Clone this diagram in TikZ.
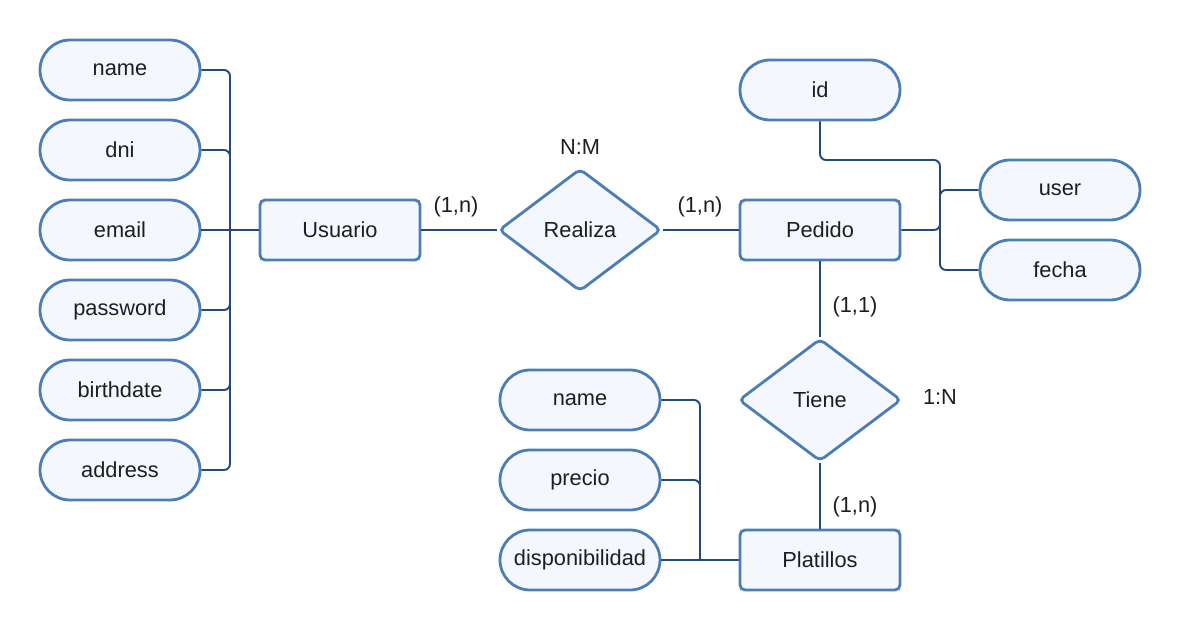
\documentclass[tikz,border=0pt]{standalone}
\usepackage{fontspec}
\setmainfont{Liberation Sans}
\usetikzlibrary{shapes.geometric}

\definecolor{shapeline}{HTML}{4A7EB5}
\definecolor{shapefill}{HTML}{F4F8FE}
\definecolor{linkline}{HTML}{23497A}
\definecolor{textcol}{HTML}{1E1E1E}

\begin{document}
\begin{tikzpicture}[
        every node/.style={text=textcol,font=\fontsize{12.4}{14}\selectfont},
        attr/.style={draw=shapeline,fill=shapefill,rectangle,rounded corners=0.6cm,line width=1.6pt,minimum width=3.2cm,minimum height=1.2cm,inner sep=0pt},
        ent/.style={draw=shapeline,fill=shapefill,rectangle,rounded corners=1mm,line width=1.6pt,minimum width=3.2cm,minimum height=1.2cm,inner sep=0pt},
        rel/.style={draw=shapeline,fill=shapefill,diamond,rounded corners=1mm,line width=1.6pt,minimum width=3.25cm,minimum height=2.45cm,inner sep=0pt},
        link/.style={draw=linkline,line width=1.1pt,rounded corners=1.2mm}
      ]
      \useasboundingbox[fill=white] (0,0) rectangle (23.6,-12.66);
      % Usuario and its attributes.
      \node[attr] (name) at (2.4,-1.4) {name};
      \node[attr] (dni) at (2.4,-3.0) {dni};
      \node[attr] (email) at (2.4,-4.6) {email};
      \node[attr] (password) at (2.4,-6.2) {password};
      \node[attr] (birthdate) at (2.4,-7.8) {birthdate};
      \node[attr] (address) at (2.4,-9.4) {address};
      \node[ent] (usuario) at (6.8,-4.6) {Usuario};
      \coordinate (ubus) at (4.6,-4.6);
      % Realiza.
      \node[rel] (realiza) at (11.6,-4.6) {Realiza};
      \node (nm) at (11.6,-2.94) {N:M};
      \node (card1) at (9.12,-4.14) {(1,n)};
      \node (card2) at (14.0,-4.14) {(1,n)};
      % Pedido and its attributes.
      \node[ent] (pedido) at (16.4,-4.6) {Pedido};
      \node[attr] (id) at (16.4,-1.8) {id};
      \node[attr] (user) at (21.2,-3.8) {user};
      \node[attr] (fecha) at (21.2,-5.4) {fecha};
      \coordinate (idbend) at (18.8,-3.2);
      \coordinate (pbus) at (18.8,-4.6);
      % Tiene.
      \node[rel] (tiene) at (16.4,-8.0) {Tiene};
      \node (onen) at (18.8,-7.94) {1:N};
      \node (card3) at (17.1,-6.14) {(1,1)};
      \node (card4) at (17.1,-10.14) {(1,n)};
      % Platillos and its attributes.
      \node[ent] (platillos) at (16.4,-11.2) {Platillos};
      \node[attr] (pname) at (11.6,-8.0) {name};
      \node[attr] (precio) at (11.6,-9.6) {precio};
      \node[attr] (disp) at (11.6,-11.2) {disponibilidad};
      \coordinate (platbus) at (14.0,-11.2);
      % Connections.
      \draw[link] (name.east) -| (ubus);
      \draw[link] (dni.east) -| (ubus);
      \draw[link] (email.east) -- (ubus);
      \draw[link] (password.east) -| (ubus);
      \draw[link] (birthdate.east) -| (ubus);
      \draw[link] (address.east) -| (ubus);
      \draw[link] (ubus) -- (usuario.west);
      \draw[link] (usuario.east) -- (realiza.west);
      \draw[link] (realiza.east) -- (pedido.west);
      \draw[link] (id.south) |- (idbend) -- (pbus) -- (pedido.east);
      \draw[link] (user.west) -| (pbus);
      \draw[link] (fecha.west) -| (pbus);
      \draw[link] (pedido.south) -- (tiene.north);
      \draw[link] (tiene.south) -- (platillos.north);
      \draw[link] (pname.east) -| (platbus);
      \draw[link] (precio.east) -| (platbus);
      \draw[link] (disp.east) -- (platbus) -- (platillos.west);
    \end{tikzpicture}
\end{document}
